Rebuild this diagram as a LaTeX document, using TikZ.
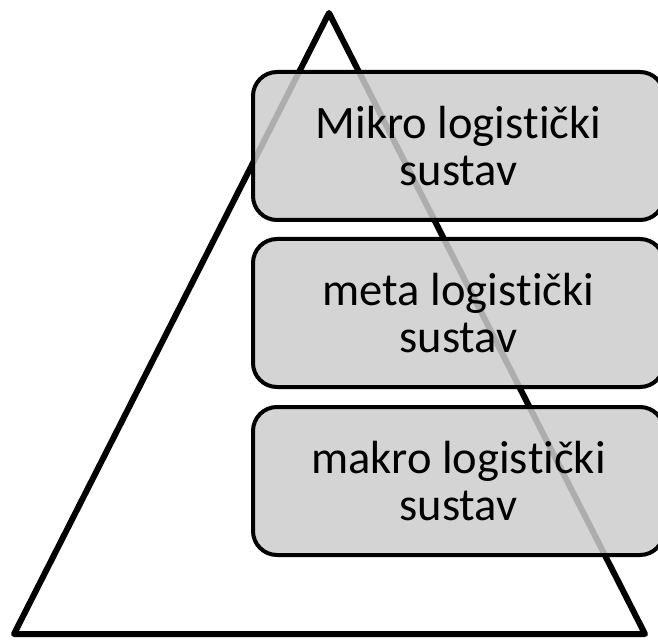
\documentclass[tikz,border=0pt]{standalone}
\usepackage{fontspec}
\setmainfont{Carlito}[Ligatures={NoCommon},Contextuals={NoAlternate}]
% keep "t" and "i" as separate glyphs
\newcommand{\logword}{logis\kern0pt t\kern0pt ički}
\begin{document}
\begin{tikzpicture}[x=1pt,y=-1pt,
  levelbox/.style={draw=black, line width=4pt, rounded corners=24pt,
    fill=black!20, fill opacity=0.85, text opacity=1,
    minimum width=411pt, minimum height=148pt, align=center,
    font=\fontsize{46.5}{47}\selectfont, inner sep=0pt},
  pyramid/.style={draw=black, line width=6pt, line join=round}]
\useasboundingbox (0,0) rectangle (658,644);
\begin{scope}
\clip (0,0) rectangle (658,644);
% pyramid outline
\coordinate (apex) at (329,13);
\coordinate (bl) at (14,634);
\coordinate (br) at (645,634);
\draw[pyramid] (apex) -- (br) -- (bl) -- cycle;
% the three levels
\node[levelbox] (mikro) at (458.5,146) {Mikro \logword\\sustav};
\node[levelbox] (meta) at (458.5,313) {meta \logword\\sustav};
\node[levelbox] (makro) at (458.5,481) {makro \logword\\sustav};
\end{scope}
\end{tikzpicture}
\end{document}
